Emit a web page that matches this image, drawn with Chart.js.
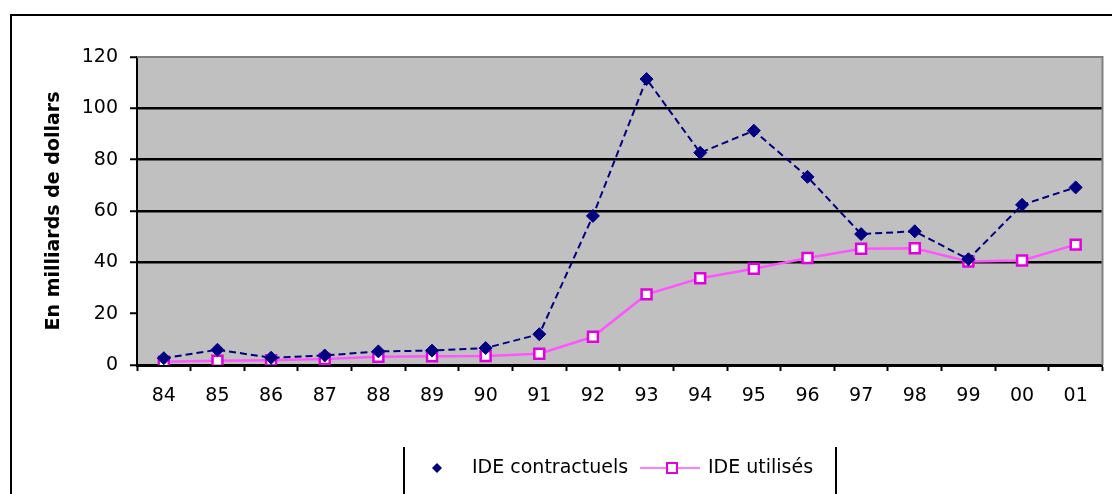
<!DOCTYPE html>
<html>
<head>
<meta charset="utf-8">
<script src="https://cdn.jsdelivr.net/npm/chart.js@4.4.1/dist/chart.umd.min.js"></script>
<style>
  html, body { margin: 0; padding: 0; background: #fff; }
  #wrap { width: 1112px; height: 494px; }
</style>
</head>
<body>
<div id="wrap"><canvas id="chart" width="1112" height="494"></canvas></div>
<script>
// years on the x axis
var years = ["84","85","86","87","88","89","90","91","92","93","94","95","96","97","98","99","00","01"];
// billions of dollars
var contractuels = [2.65, 5.93, 2.83, 3.71, 5.3, 5.6, 6.6, 12.0, 58.1, 111.4, 82.7, 91.3, 73.3, 51.0, 52.1, 41.2, 62.4, 69.2];
var utilises = [1.26, 1.66, 1.87, 2.31, 3.19, 3.39, 3.49, 4.37, 11.0, 27.5, 33.8, 37.5, 41.7, 45.3, 45.5, 40.3, 40.7, 46.9];
var yTicks = [0, 20, 40, 60, 80, 100, 120];
var seriesNames = ["IDE contractuels", "IDE utilisés"];
var gridShown = [40, 60, 80, 100];

var navy = "#000080";
var magenta = "#E000E0";
var pinkLine = "#FF55FF";

// grey plot background, frame round the picture, legend drawn by hand
var decor = {
  id: "decor",
  beforeDraw: function (chart) {
    var c = chart.ctx, a = chart.chartArea;
    c.save();
    c.fillStyle = "#C0C0C0";
    c.fillRect(a.left, a.top, a.right - a.left, a.bottom - a.top);
    c.restore();
  },
  afterDraw: function (chart) {
    var c = chart.ctx, a = chart.chartArea;
    c.save();
    // plot border top / right
    c.strokeStyle = "#808080";
    c.lineWidth = 2;
    c.beginPath();
    c.moveTo(a.left, a.top);
    c.lineTo(a.right, a.top);
    c.lineTo(a.right, a.bottom);
    c.stroke();
    // outer frame
    c.strokeStyle = "#000";
    c.lineWidth = 2;
    c.beginPath();
    c.moveTo(11, 494);
    c.lineTo(11, 15);
    c.lineTo(1112, 15);
    c.stroke();
    // legend box sides
    c.beginPath();
    c.moveTo(404, 447); c.lineTo(404, 494);
    c.moveTo(836, 447); c.lineTo(836, 494);
    c.stroke();
    // legend entries
    var ly = 468;
    c.fillStyle = navy;
    c.beginPath();
    c.moveTo(437, ly - 5); c.lineTo(442, ly); c.lineTo(437, ly + 5); c.lineTo(432, ly);
    c.closePath();
    c.fill();
    c.fillStyle = "#000";
    c.font = "19px 'DejaVu Sans'";
    c.textBaseline = "middle";
    c.textAlign = "left";
    c.fillText(seriesNames[0], 472, ly);
    c.strokeStyle = pinkLine;
    c.lineWidth = 1.5;
    c.beginPath();
    c.moveTo(640, ly); c.lineTo(700, ly);
    c.stroke();
    c.fillStyle = "#fff";
    c.fillRect(667, ly - 5, 10, 10);
    c.strokeStyle = magenta;
    c.lineWidth = 2;
    c.strokeRect(667, ly - 5, 10, 10);
    c.fillStyle = "#000";
    c.fillText(seriesNames[1], 708, ly);
    c.restore();
  }
};

new Chart(document.getElementById("chart"), {
  type: "line",
  data: {
    labels: years,
    datasets: [
      {
        label: seriesNames[0],
        data: contractuels,
        borderColor: navy,
        borderWidth: 2,
        borderDash: [7, 4],
        pointStyle: "rectRot",
        pointRadius: 6.5,
        pointBackgroundColor: navy,
        pointBorderColor: navy,
        pointBorderWidth: 1,
        tension: 0
      },
      {
        label: seriesNames[1],
        data: utilises,
        borderColor: pinkLine,
        borderWidth: 2.5,
        pointStyle: "rect",
        pointRadius: 7,
        pointBackgroundColor: "#fff",
        pointBorderColor: magenta,
        pointBorderWidth: 2.5,
        tension: 0
      }
    ]
  },
  options: {
    responsive: false,
    animation: false,
    layout: { padding: { left: 0, top: 57, right: 8, bottom: 0 } },
    plugins: {
      legend: { display: false },
      tooltip: { enabled: false }
    },
    scales: {
      x: {
        offset: true,
        grid: { offset: true, drawOnChartArea: false, tickLength: 6, tickColor: "#000", tickWidth: 2 },
        border: { color: "#000", width: 3 },
        ticks: { color: "#000", font: { family: "DejaVu Sans", size: 19 }, padding: 14, maxRotation: 0, autoSkip: false },
        afterFit: function (s) { s.height = 494 - 365; }
      },
      y: {
        min: 0,
        max: 120,
        afterBuildTicks: function (s) { s.ticks = yTicks.map(function (v) { return { value: v }; }); },
        grid: {
          color: function (ctx) { return gridShown.indexOf(ctx.tick.value) >= 0 ? "#000" : "rgba(0,0,0,0)"; },
          lineWidth: 2.5,
          tickLength: 7,
          tickColor: "#000",
          tickWidth: 2
        },
        border: { color: "#000", width: 2 },
        ticks: { color: "#000", font: { family: "DejaVu Sans", size: 19 }, padding: 12 },
        title: {
          display: true,
          text: "En milliards de dollars",
          color: "#000",
          font: { family: "DejaVu Sans", size: 19, weight: "bold" },
          padding: { top: 43, bottom: 0 }
        },
        afterFit: function (s) { s.width = 137; }
      }
    }
  },
  plugins: [decor]
});
</script>
</body>
</html>
